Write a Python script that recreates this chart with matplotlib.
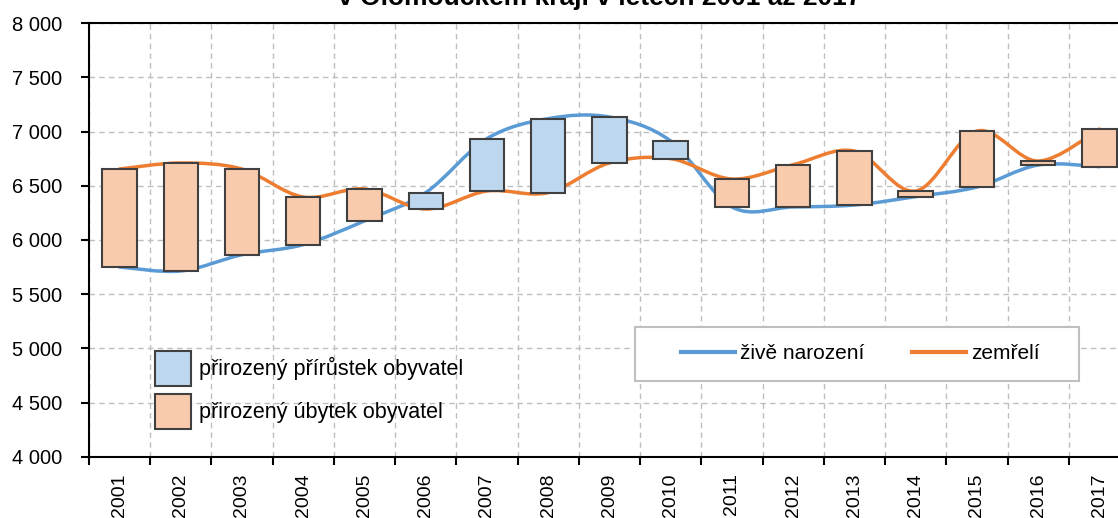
import numpy as np
import matplotlib
matplotlib.use("Agg")
import matplotlib.pyplot as plt
from matplotlib.path import Path
from matplotlib.patches import PathPatch, Patch, Rectangle
from matplotlib.lines import Line2D
from matplotlib.ticker import FuncFormatter

plt.rcParams['font.family'] = ['Liberation Sans', 'DejaVu Sans']

# data (Olomoucky kraj)
years = [str(y) for y in range(2001, 2018)]
births = [5751, 5714, 5864, 5957, 6176, 6437, 6935, 7120, 7135, 6914,
          6305, 6305, 6323, 6400, 6489, 6692, 6677]
deaths = [6655, 6711, 6655, 6397, 6471, 6286, 6452, 6437, 6711, 6751,
          6563, 6695, 6821, 6452, 7006, 6729, 7024]

BLUE = '#5B9BD5'
ORANGE = '#ED7D31'
BLUE_FILL = '#BDD7EE'
ORANGE_FILL = '#F8CBAD'
EDGE = '#404040'
GRID = '#BFBFBF'

W, H = 1118, 518


def smooth_path(x, y):
    # bezier curve through the points, like excel "smoothed line"
    n = len(x)
    verts = [(x[0], y[0])]
    codes = [Path.MOVETO]
    for i in range(n - 1):
        p0 = i - 1 if i > 0 else i
        p3 = i + 2 if i + 2 < n else i + 1
        c1 = (x[i] + (x[i+1] - x[p0]) / 6., y[i] + (y[i+1] - y[p0]) / 6.)
        c2 = (x[i+1] - (x[p3] - x[i]) / 6., y[i+1] - (y[p3] - y[i]) / 6.)
        verts += [c1, c2, (x[i+1], y[i+1])]
        codes += [Path.CURVE4] * 3
    return Path(verts, codes)


def main():
    fig = plt.figure(figsize=(W / 100., H / 100.), dpi=100)
    left, right, top, bottom = 88.8, 1130, 23.3, 456.7
    ax = fig.add_axes([left / W, (H - bottom) / H, (right - left) / W, (bottom - top) / H])

    x = np.arange(len(years))
    b = np.array(births)
    d = np.array(deaths)

    # smoothed lines
    ax.add_patch(PathPatch(smooth_path(x, b), facecolor='none', edgecolor=BLUE,
                           lw=2.5, zorder=2, capstyle='round'))
    ax.add_patch(PathPatch(smooth_path(x, d), facecolor='none', edgecolor=ORANGE,
                           lw=2.5, zorder=2, capstyle='round'))

    # floating bars between the two series
    colors = [BLUE_FILL if bb > dd else ORANGE_FILL for bb, dd in zip(b, d)]
    ax.bar(x, np.abs(b - d), bottom=np.minimum(b, d), width=0.56,
           color=colors, edgecolor=EDGE, linewidth=1.5, zorder=3)

    ax.set_xlim(-0.5, len(years) - 0.5)
    ax.set_ylim(4000, 8000)

    ax.set_yticks(np.arange(4000, 8001, 500))
    ax.yaxis.set_major_formatter(FuncFormatter(lambda v, p: '{:,.0f}'.format(v).replace(',', ' ')))
    ax.tick_params(axis='y', length=6, width=1.5, pad=13, labelsize=14.5)

    ax.set_xticks(np.arange(-0.5, len(years), 1))
    ax.set_xticklabels([])
    ax.set_xticks(x, minor=True)
    ax.set_xticklabels(years, minor=True, rotation=90)
    ax.tick_params(axis='x', which='major', length=6, width=1.5)
    ax.tick_params(axis='x', which='minor', length=0, pad=12, labelsize=14)

    ax.grid(True, which='major', color=GRID, linestyle=(0, (4, 3)), lw=1)
    ax.set_axisbelow(True)

    for s in ['left', 'bottom', 'top']:
        ax.spines[s].set_linewidth(1.5)
        ax.spines[s].set_color('black')
    ax.spines['right'].set_visible(False)

    # legend for the boxes
    h1 = [Patch(facecolor=BLUE_FILL, edgecolor=EDGE, lw=1.5),
          Patch(facecolor=ORANGE_FILL, edgecolor=EDGE, lw=1.5)]
    leg1 = ax.legend(h1, ['přirozený přírůstek obyvatel', 'přirozený úbytek obyvatel'],
                     loc='upper left', bbox_to_anchor=(155 / W, (H - 350.7) / H),
                     bbox_transform=fig.transFigure, frameon=False, fontsize=15.5,
                     handlelength=1.68, handleheight=2.14, labelspacing=0.37,
                     handletextpad=0.37, borderpad=0, borderaxespad=0)
    ax.add_artist(leg1)

    # legend for the lines, with its own frame
    ax.add_patch(Rectangle((635 / W, (H - 380.7) / H), (1079 - 635) / W, 54 / H,
                           transform=fig.transFigure, facecolor='white',
                           edgecolor=GRID, lw=1.5, zorder=4.5, clip_on=False))
    h2 = [Line2D([], [], color=BLUE, lw=3), Line2D([], [], color=ORANGE, lw=3)]
    leg2 = ax.legend(h2, ['živě narození', 'zemřelí'], ncol=2, loc='center left',
                     bbox_to_anchor=(680.7 / W, (H - 353.7) / H),
                     bbox_transform=fig.transFigure, frameon=False, fontsize=15,
                     handlelength=2.6, handletextpad=0.24, columnspacing=2.3,
                     borderpad=0, borderaxespad=0)
    leg2.set_zorder(5)

    # title runs off the top of the picture, as in the original
    fig.text(600 / W, (H - 5.5) / H, 'v Olomouckém kraji v letech 2001 až 2017',
             ha='center', va='baseline', fontsize=19, fontweight='bold')

    fig.savefig('out.png', dpi=100)


if __name__ == "__main__":
    main()
